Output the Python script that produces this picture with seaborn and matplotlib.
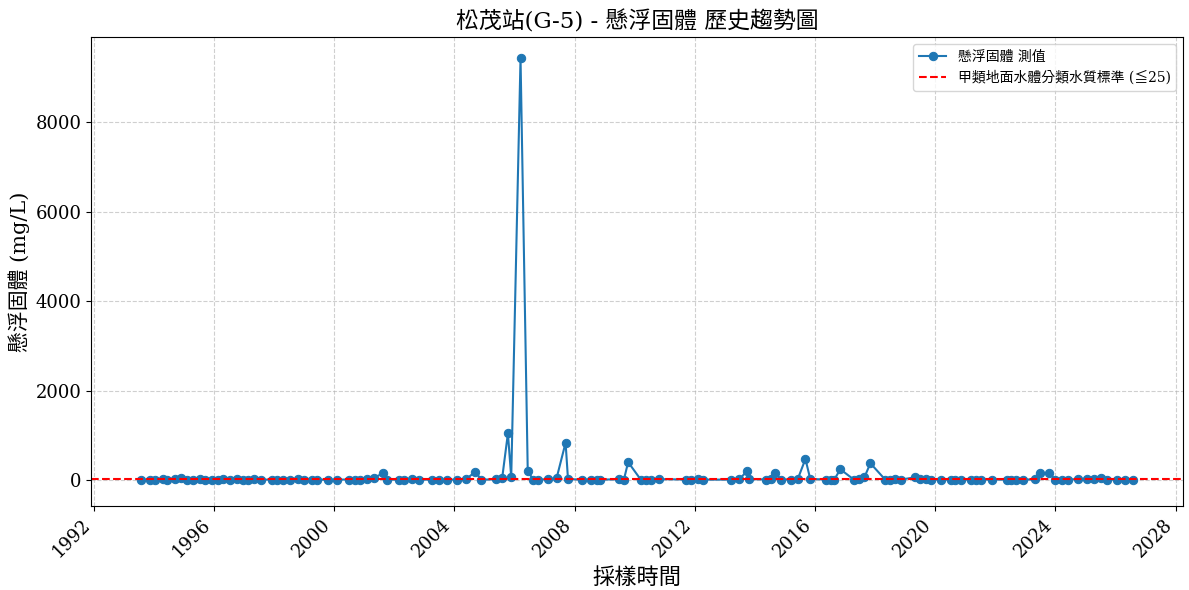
import numpy as np
import pandas as pd
import matplotlib
matplotlib.use("Agg")
import matplotlib.pyplot as plt
import matplotlib.dates as mdates
import seaborn as sns

# decimal-year sample times
sample_years = [
    1993.56, 1993.87, 1994.03, 1994.29, 1994.44, 1994.70, 1994.92, 1995.09, 1995.31, 1995.53,
    1995.70, 1995.92, 1996.14, 1996.31, 1996.53, 1996.76, 1996.98, 1997.14, 1997.33, 1997.56,
    1997.92, 1998.09, 1998.31, 1998.53, 1998.81, 1998.98, 1999.26, 1999.42, 1999.81, 2000.09,
    2000.48, 2000.70, 2000.87, 2001.09, 2001.31, 2001.62, 2001.76, 2002.14, 2002.31, 2002.59,
    2002.81, 2003.26, 2003.48, 2003.76, 2004.09, 2004.37, 2004.70, 2004.89, 2005.37, 2005.59,
    2005.78, 2005.89, 2006.20, 2006.44, 2006.62, 2006.78, 2007.11, 2007.40, 2007.70, 2007.78,
    2008.26, 2008.53, 2008.76, 2008.85, 2009.48, 2009.64, 2009.78, 2010.20, 2010.37, 2010.53,
    2010.81, 2011.70, 2011.87, 2012.09, 2012.26, 2013.20, 2013.48, 2013.73, 2013.81, 2014.37,
    2014.53, 2014.68, 2014.87, 2015.20, 2015.42, 2015.68, 2015.84, 2016.37, 2016.53, 2016.64,
    2016.84, 2017.29, 2017.46, 2017.64, 2017.84, 2018.33, 2018.50, 2018.67, 2018.87, 2019.31,
    2019.50, 2019.70, 2019.87, 2020.18, 2020.51, 2020.67, 2020.84, 2021.20, 2021.37, 2021.53,
    2021.87, 2022.37, 2022.53, 2022.70, 2022.92, 2023.31, 2023.48, 2023.78, 2024.00, 2024.20,
    2024.42, 2024.76, 2025.03, 2025.28, 2025.51, 2025.70, 2026.03, 2026.31, 2026.59,
]
ss_values = [
    10, 8, 12, 15, 9, 20, 35, 12, 10, 14,
    8, 11, 9, 13, 10, 16, 12, 9, 14, 11,
    7, 10, 12, 9, 30, 10, 12, 8, 10, 9,
    11, 12, 8, 20, 45, 150, 12, 10, 9, 14,
    11, 8, 12, 10, 9, 13, 185, 10, 15, 50,
    1045, 60, 9430, 200, 12, 10, 15, 40, 835, 20,
    10, 12, 9, 11, 15, 12, 400, 10, 9, 11,
    20, 12, 10, 13, 9, 10, 15, 200, 20, 12,
    30, 150, 12, 10, 14, 470, 25, 11, 10, 12,
    240, 10, 30, 60, 375, 12, 10, 14, 11, 60,
    20, 30, 10, 12, 9, 11, 10, 12, 9, 11,
    10, 12, 9, 11, 10, 15, 150, 155, 12, 10,
    11, 20, 30, 25, 55, 12, 10, 9, 11,
]
standard_limit = 25

title = "松茂站(G-5) - 懸浮固體 歷史趨勢圖"
xlabel = "採樣時間"
ylabel = "懸浮固體 (mg/L)"
series_label = "懸浮固體 測值"
limit_label = "甲類地面水體分類水質標準 (≦25)"


def year_to_date(y):
    yr = int(np.floor(y))
    start = pd.Timestamp(year=yr, month=1, day=1)
    end = pd.Timestamp(year=yr + 1, month=1, day=1)
    return start + (end - start) * (y - yr)


df = pd.DataFrame({
    "date": [year_to_date(y) for y in sample_years],
    "value": ss_values,
})

fonts = ["DejaVu Serif", "Noto Sans CJK TC"]
plt.rcParams["font.family"] = fonts
plt.rcParams["axes.unicode_minus"] = False

fig, ax = plt.subplots(figsize=(11.89, 5.90), dpi=100)
sns.lineplot(data=df, x="date", y="value", marker="o", color="#1f77b4",
             markeredgecolor="#1f77b4", markersize=6, linewidth=1.5,
             label=series_label, ax=ax)
ax.axhline(standard_limit, color="red", linestyle="--", linewidth=1.5, label=limit_label)

ax.set_title(title, fontsize=16.5)
ax.set_xlabel(xlabel, fontsize=16)
ax.set_ylabel(ylabel, fontsize=15)
ax.tick_params(axis="both", labelsize=13)
ax.set_ylim(-580, 9900)
ax.xaxis.set_major_locator(mdates.YearLocator(4))
ax.xaxis.set_major_formatter(mdates.DateFormatter("%Y"))
plt.setp(ax.get_xticklabels(), rotation=45, ha="right")
ax.grid(True, linestyle="--", alpha=0.6)
ax.legend(loc="upper right", fontsize=10)
fig.subplots_adjust(left=91 / 1189, right=1183 / 1189, top=1 - 37 / 590, bottom=1 - 506 / 590)
fig.savefig("out.png", dpi=100)
